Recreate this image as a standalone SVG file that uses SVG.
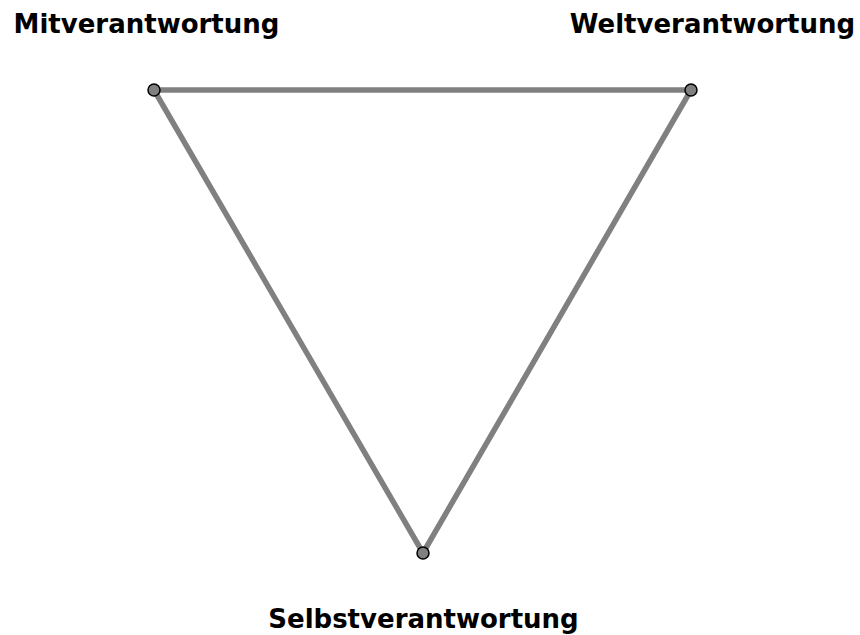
<svg xmlns="http://www.w3.org/2000/svg" width="860" height="635" viewBox="0 0 860 635">
<style>
.lbl{font-family:"DejaVu Sans",Verdana,sans-serif;font-weight:bold;font-size:26px;fill:#000}
.edge{stroke:#808080;stroke-width:5.5;fill:none}
.pt{fill:#808080;stroke:#000;stroke-width:1.5}
</style>
<rect width="860" height="635" fill="#fff"/>
<g id="connectors">
<line class="edge" x1="154" y1="90" x2="691" y2="90"/>
<line class="edge" x1="154" y1="90" x2="423" y2="553"/>
<line class="edge" x1="691" y1="90" x2="423" y2="553"/>
</g>
<g id="mit"><circle class="pt" cx="154" cy="90" r="6"/><text class="lbl" x="146.5" y="33" text-anchor="middle">Mitverantwortung</text></g>
<g id="welt"><circle class="pt" cx="691" cy="90" r="6"/><text class="lbl" x="712.5" y="33" text-anchor="middle">Weltverantwortung</text></g>
<g id="selbst"><circle class="pt" cx="423" cy="553" r="6"/><text class="lbl" x="423.5" y="628" text-anchor="middle">Selbstverantwortung</text></g>
</svg>
